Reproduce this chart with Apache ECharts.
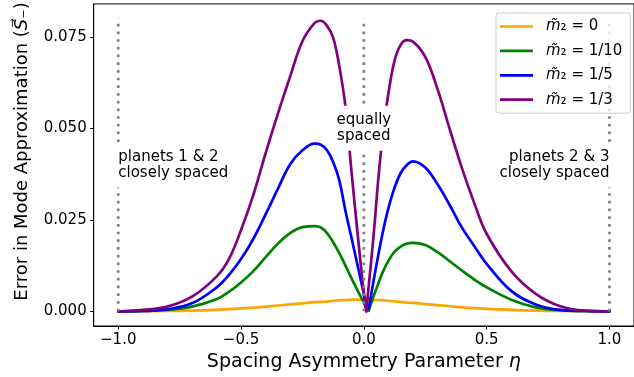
<!DOCTYPE html>
<html><head><meta charset="utf-8">
<script src="https://cdn.jsdelivr.net/npm/echarts@6/dist/echarts.min.js"></script>
<style>html,body{margin:0;padding:0;background:#fff}#c{width:634px;height:377px}</style>
</head><body><div id="c"></div>
<script>
// ---- data ----
const eta = [-1, -0.9, -0.8, -0.7, -0.6, -0.55, -0.5, -0.45, -0.4, -0.35, -0.3, -0.25, -0.2, -0.175, -0.15, -0.125, -0.1, -0.075, -0.05, -0.025, 0, 0.01, 0.02, 0.04, 0.06, 0.08, 0.1, 0.125, 0.15, 0.175, 0.2, 0.25, 0.3, 0.35, 0.4, 0.45, 0.5, 0.6, 0.7, 0.8, 0.9, 1];
const errM0 = [0, 0.00003, 0.0001, 0.0002, 0.0004, 0.0006, 0.0008, 0.0010, 0.0013, 0.0016, 0.0019, 0.0022, 0.0025, 0.0026, 0.0027, 0.0029, 0.0030, 0.0031, 0.0032, 0.0032, 0.0032, 0.0032, 0.0032, 0.0031, 0.0031, 0.0030, 0.0029, 0.0027, 0.0026, 0.0024, 0.0023, 0.0020, 0.0017, 0.0014, 0.0011, 0.0009, 0.0007, 0.0004, 0.0002, 0.0001, 0.00003, 0];
const errM1_10 = [0, 0.0001, 0.0004, 0.0013, 0.0033, 0.0053, 0.0079, 0.0110, 0.0148, 0.0185, 0.0214, 0.0230, 0.0233, 0.0229, 0.0214, 0.0189, 0.0159, 0.0125, 0.0090, 0.0056, 0.0024, 0.0009, 0.0002, 0.0042, 0.0078, 0.0112, 0.0138, 0.0163, 0.0177, 0.0185, 0.0187, 0.0181, 0.0162, 0.0137, 0.0111, 0.0087, 0.0066, 0.0032, 0.0011, 0.0003, 0.0001, 0];
const errM1_5 = [0, 0.0001, 0.0006, 0.0022, 0.0065, 0.0099, 0.0143, 0.0198, 0.0265, 0.0335, 0.0402, 0.0440, 0.0458, 0.0455, 0.0440, 0.0408, 0.0358, 0.0275, 0.0200, 0.0124, 0.0048, 0.0017, 0.0008, 0.0085, 0.0158, 0.0225, 0.0282, 0.0338, 0.0378, 0.0400, 0.0410, 0.0393, 0.0347, 0.0290, 0.0228, 0.0178, 0.0130, 0.0056, 0.0019, 0.0004, 0.0001, 0];
const errM1_3 = [0, 0.0004, 0.0013, 0.0040, 0.0095, 0.0142, 0.0222, 0.0318, 0.0432, 0.0540, 0.0642, 0.0738, 0.0788, 0.0794, 0.0780, 0.0748, 0.0670, 0.0560, 0.0380, 0.0210, 0.0050, 0.0000, 0.0070, 0.0210, 0.0370, 0.0500, 0.0595, 0.0685, 0.0728, 0.0741, 0.0737, 0.0695, 0.0607, 0.0497, 0.0390, 0.0295, 0.0212, 0.0110, 0.0048, 0.0014, 0.0002, 0];
const legendLabels = ['0', '1/10', '1/5', '1/3'];
const xTicks = [-1, -0.5, 0, 0.5, 1];
const yTicks = [0, 0.025, 0.05, 0.075];
const guideX = [-1, 0, 1];
const guideTop = 0.08;
const noteLeft = 'planets 1 & 2\nclosely spaced';
const noteMid = 'equally\nspaced';
const noteRight = 'planets 2 & 3\nclosely spaced';

// ---- chart ----
const F = 'DejaVu Sans';
const colors = ['#FFA500', '#008000', '#0000FF', '#800080'];
const curves = [errM0, errM1_10, errM1_5, errM1_3];
const series = [];
curves.forEach((ys, k) => {
  const pts = eta.map((x, i) => [x, ys[i]]);
  // split at the sharp minimum near eta = 0 (if there is one) so the cusp stays sharp
  let minIdx = -1, minV = Infinity;
  eta.forEach((x, i) => { if (Math.abs(x) < 0.1 && ys[i] < minV) { minV = ys[i]; minIdx = i; } });
  const hasCusp = minV < 0.5 * Math.max(...ys);
  const parts = hasCusp ? [pts.slice(0, minIdx + 1), pts.slice(minIdx)] : [pts];
  parts.forEach(p => series.push({
    name: legendLabels[k], type: 'line', data: p,
    symbol: 'none', showSymbol: false, smooth: 0.4,
    lineStyle: { color: colors[k], width: 2.7, cap: 'round', join: 'round' }, itemStyle: { color: colors[k] },
    z: 2, animation: false
  }));
});
guideX.forEach(x => series.push({
  type: 'line', data: [[x, 0], [x, guideTop]], symbol: 'none', silent: true, animation: false, z: 3,
  lineStyle: { color: '#808080', width: 2.7, type: [2.7, 5], cap: 'butt' }
}));
const boxLabel = { show: true, color: '#000', fontFamily: F, fontSize: 15, lineHeight: 16.5, opacity: 1,
  textBorderWidth: 0, backgroundColor: '#fff', padding: [6, 5], verticalAlign: 'middle', position: [0, 0] };
series.push({
  type: 'scatter', symbolSize: 0, z: 10, silent: true, animation: false,
  itemStyle: { opacity: 1 },
  data: [
    { value: [guideX[0], 0.04], label: Object.assign({}, boxLabel, { formatter: noteLeft, align: 'left', offset: [-5, 0] }) },
    { value: [guideX[1], 0.05], label: Object.assign({}, boxLabel, { formatter: noteMid, align: 'center' }) },
    { value: [guideX[2], 0.04], label: Object.assign({}, boxLabel, { formatter: noteRight, align: 'right', offset: [5, 0] }) }
  ]
});

const chart = echarts.init(document.getElementById('c'), null, { renderer: 'canvas' });
chart.setOption({
  animation: false,
  backgroundColor: '#fff',
  grid: { left: 93.7, top: 3.9, width: 541.8, height: 323.8, show: true, borderColor: '#000', borderWidth: 1, containLabel: false },
  legend: {
    data: legendLabels, orient: 'vertical', left: 496, top: 13,
    padding: [5, 8, 5, 4], itemGap: 7.4, itemWidth: 33, itemHeight: 2.7, icon: 'rect',
    backgroundColor: 'rgba(255,255,255,0.8)', borderColor: '#cccccc', borderWidth: 1, borderRadius: 3,
    formatter: n => '{i|m\u0303}\u2082 = ' + n,
    textStyle: { fontFamily: F, fontSize: 15, color: '#000', lineHeight: 17, padding: [0, 0, 0, 8],
      rich: { i: { fontFamily: F, fontSize: 15, fontStyle: 'italic', color: '#000' } } }
  },
  xAxis: {
    type: 'value', min: -1.1, max: 1.1,
    axisLine: { show: true, onZero: false, lineStyle: { color: '#000', width: 1 } },
    axisTick: { show: true, customValues: xTicks, length: 3.5, lineStyle: { color: '#000', width: 1 } },
    axisLabel: { customValues: xTicks, formatter: v => v.toFixed(1).replace('-', '\u2212'), fontFamily: F, fontSize: 15, color: '#000', margin: 7 },
    splitLine: { show: false },
    name: 'Spacing Asymmetry Parameter {i|\u03b7}', nameLocation: 'middle', nameGap: 27,
    nameTextStyle: { fontFamily: F, fontSize: 19, color: '#000', rich: { i: { fontFamily: F, fontSize: 19, fontStyle: 'italic', color: '#000' } } }
  },
  yAxis: {
    type: 'value', min: -0.004, max: 0.084,
    axisLine: { show: true, onZero: false, lineStyle: { color: '#000', width: 1 } },
    axisTick: { show: true, customValues: yTicks, length: 3.5, lineStyle: { color: '#000', width: 1 } },
    axisLabel: { customValues: yTicks, formatter: v => v.toFixed(3), fontFamily: F, fontSize: 15, color: '#000', margin: 7 },
    splitLine: { show: false },
    name: 'Error in Mode Approximation ({i|S\u20d7}\u208b)', nameLocation: 'middle', nameGap: 62, nameRotate: 90,
    nameTextStyle: { fontFamily: F, fontSize: 18, color: '#000', padding: [0, 0, 0, 27],
      rich: { i: { fontFamily: F, fontSize: 18, fontStyle: 'italic', color: '#000' } } }
  },
  series: series
});
</script>
</body></html>
